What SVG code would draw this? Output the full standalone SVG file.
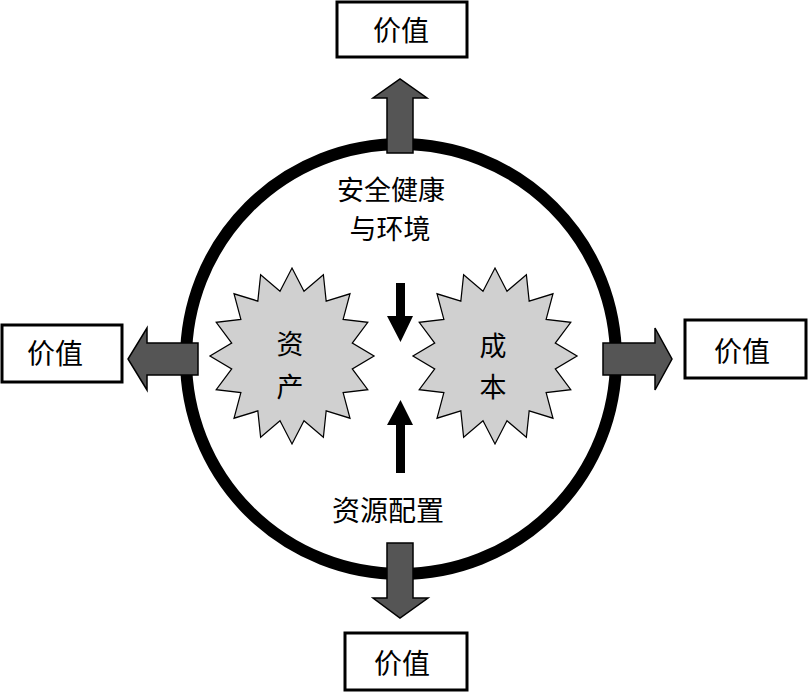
<svg xmlns="http://www.w3.org/2000/svg" xmlns:xlink="http://www.w3.org/1999/xlink" width="808" height="692" viewBox="0 0 808 692">
<style>
.txt{font-family:"Noto Sans CJK SC","Noto Sans",sans-serif;fill:#000;text-anchor:middle;dominant-baseline:central}
.box{fill:#fff;stroke:#000;stroke-width:3}
.garrow{fill:#555;stroke:#000;stroke-width:1.5;stroke-linejoin:miter}
.star{fill:#d0d0d0;stroke:#000;stroke-width:1.5;vector-effect:non-scaling-stroke}
</style>
<defs>
<polygon id="burst" points="0,-100 14.63,-73.56 38.27,-92.39 41.67,-62.36 70.71,-70.71 62.36,-41.67 92.39,-38.27 73.56,-14.63 100,0 73.56,14.63 92.39,38.27 62.36,41.67 70.71,70.71 41.67,62.36 38.27,92.39 14.63,73.56 0,100 -14.63,73.56 -38.27,92.39 -41.67,62.36 -70.71,70.71 -62.36,41.67 -92.39,38.27 -73.56,14.63 -100,0 -73.56,-14.63 -92.39,-38.27 -62.36,-41.67 -70.71,-70.71 -41.67,-62.36 -38.27,-92.39 -14.63,-73.56"/>
</defs>
<rect width="808" height="692" fill="#fff"/>
<g id="ring">
<circle cx="401" cy="359" r="215" fill="none" stroke="#000" stroke-width="12"/>
</g>
<g id="connectors">
<polygon class="garrow" points="387,153 387,98 373,98 400,79 427,98 413,98 413,153"/>
<polygon class="garrow" points="387,543 413,543 413,598 428,598 400,618 373,598 387,598"/>
<polygon class="garrow" points="198,343 147,343 147,328 128,359 147,390 147,375 198,375"/>
<polygon class="garrow" points="603,343 655,343 655,328 672,359 655,390 655,375 603,375"/>
<polygon fill="#000" points="396,283 405,283 405,316 413,316 400.5,342 387,316 396,316"/>
<polygon fill="#000" points="396,473 405,473 405,425 413,425 400.5,400 387,425 396,425"/>
</g>
<g id="top-value">
<rect class="box" x="337" y="2" width="130" height="55"/>
<text class="txt" x="401" y="29" font-size="28">价值</text>
</g>
<g id="left-value">
<rect class="box" x="2" y="325" width="120" height="57"/>
<text class="txt" x="55" y="352" font-size="28">价值</text>
</g>
<g id="right-value">
<rect class="box" x="685" y="320" width="121" height="58"/>
<text class="txt" x="742" y="350" font-size="28">价值</text>
</g>
<g id="bottom-value">
<rect class="box" x="345" y="633" width="122" height="57"/>
<text class="txt" x="402" y="662" font-size="28">价值</text>
</g>
<g id="hse">
<text class="txt" x="391" y="188" font-size="27">安全健康</text>
<text class="txt" x="390" y="227" font-size="27">与环境</text>
</g>
<g id="allocation">
<text class="txt" x="388" y="509" font-size="28">资源配置</text>
</g>
<g id="assets">
<use xlink:href="#burst" class="star" transform="translate(292,356) scale(0.82,0.88)"/>
<text class="txt" x="290" y="342" font-size="27">资</text>
<text class="txt" x="290" y="385" font-size="27">产</text>
</g>
<g id="cost">
<use xlink:href="#burst" class="star" transform="translate(495,356) scale(0.82,0.88)"/>
<text class="txt" x="493" y="344" font-size="27">成</text>
<text class="txt" x="493" y="385" font-size="27">本</text>
</g>
</svg>
